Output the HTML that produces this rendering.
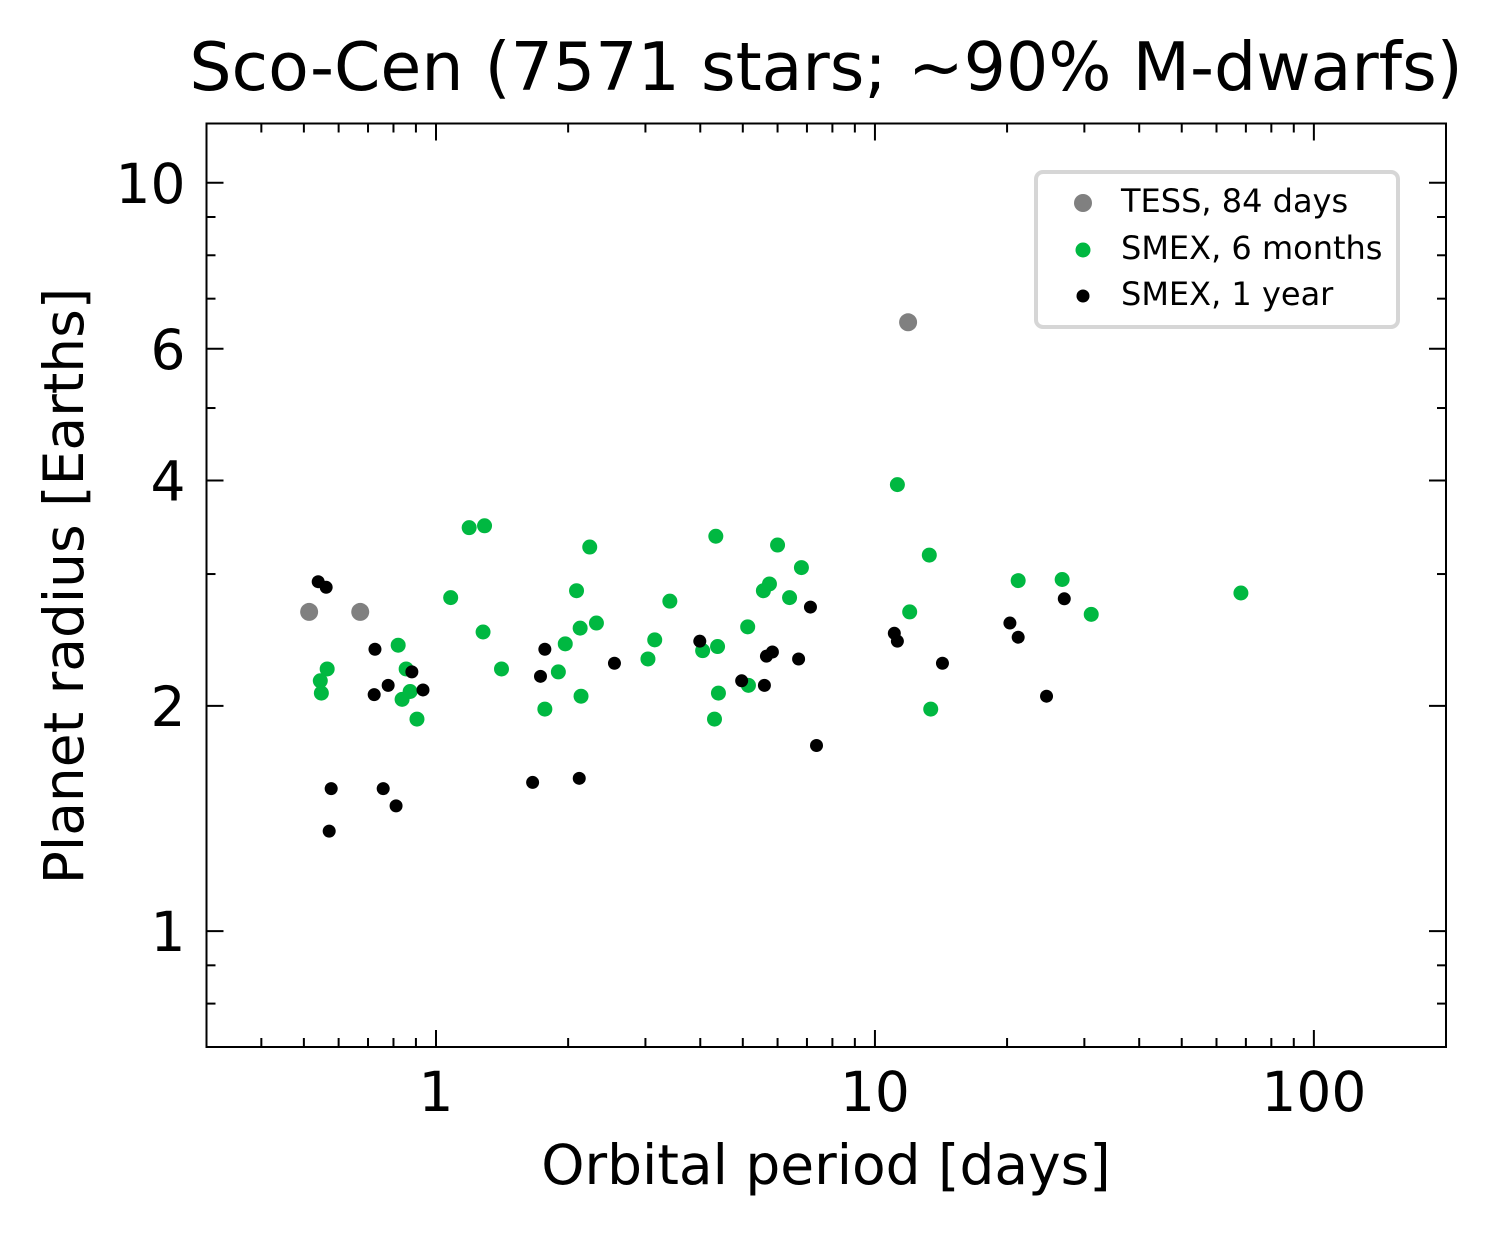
<!DOCTYPE html>
<html><head><meta charset="utf-8"><style>
html,body{margin:0;padding:0;background:#fff;}
svg{display:block;font-family:"DejaVu Sans","Liberation Sans",sans-serif;}
</style></head><body>
<svg id="chart" width="1504" height="1237" viewBox="0 0 1504 1237" xmlns="http://www.w3.org/2000/svg">
<rect width="1504" height="1237" fill="#fff"/>
<text x="826" y="90" font-size="66.5" text-anchor="middle">Sco-Cen (7571 stars; ~90% M-dwarfs)</text>
<g id="ticks"></g>
<g id="points"></g>
<rect x="206.5" y="123.5" width="1239.5" height="923.5" fill="none" stroke="#000" stroke-width="2"/>
<text x="826" y="1184" font-size="55" text-anchor="middle">Orbital period [days]</text>
<text transform="translate(83,586) rotate(-90)" font-size="55" text-anchor="middle">Planet radius [Earths]</text>
<g>
<rect x="1036" y="172" width="362" height="155" rx="7" fill="#fff" stroke="#d6d6d6" stroke-width="4"/>
<circle cx="1083" cy="203" r="9" fill="#808080"/>
<text x="1121" y="212" font-size="32">TESS, 84 days</text>
<circle cx="1083" cy="250" r="7.5" fill="#00b841"/>
<text x="1121" y="259" font-size="32">SMEX, 6 months</text>
<circle cx="1083" cy="296" r="6.5" fill="#000"/>
<text x="1121" y="305" font-size="32">SMEX, 1 year</text>
</g>
</svg>
<script>
const tessP=[0.514,0.672,11.9];
const tessR=[2.67,2.67,6.51];
const sixP=[1.19,1.29,1.08,1.28,1.41,0.82,0.855,0.837,0.873,0.905,0.545,0.565,0.548,2.24,2.09,2.32,1.97,2.13,1.90,2.14,1.77,3.41,3.15,3.04,4.34,4.38,4.05,4.40,4.31,6.00,6.80,5.75,5.57,6.39,5.13,5.15,11.25,13.3,12.0,13.4,21.2,26.7,31.1,68.2];
const sixR=[3.46,3.48,2.79,2.51,2.24,2.41,2.24,2.04,2.09,1.92,2.16,2.24,2.08,3.26,2.85,2.58,2.42,2.54,2.22,2.06,1.98,2.76,2.45,2.31,3.37,2.40,2.37,2.08,1.92,3.28,3.06,2.91,2.85,2.79,2.55,2.13,3.95,3.18,2.67,1.98,2.94,2.95,2.65,2.83];
const yrP=[0.539,0.562,0.726,0.723,0.778,0.881,0.934,0.577,0.758,0.811,0.571,1.77,1.73,2.55,1.66,2.12,3.99,4.97,5.60,5.66,5.84,6.70,7.13,7.36,11.07,11.25,14.25,20.3,21.2,24.6,27.0];
const yrR=[2.93,2.88,2.38,2.07,2.13,2.22,2.10,1.55,1.55,1.47,1.36,2.38,2.19,2.28,1.58,1.60,2.44,2.16,2.13,2.33,2.36,2.31,2.71,1.77,2.50,2.44,2.28,2.58,2.47,2.06,2.78];
const xMajor=[1,10,100];
const xLabels=["1","10","100"];
const yMajor=[1,2,4,6,10];
const yLabels=["1","2","4","6","10"];
const xMinor=[0.4,0.5,0.6,0.7,0.8,0.9,2,3,4,5,6,7,8,9,20,30,40,50,60,70,80,90];
const yMinor=[0.8,0.9,3,5,7,8,9];

const L=206.5,R=1446,T=123.5,B=1047;
const xmin=Math.log10(0.3),xmax=Math.log10(200),ymin=Math.log10(0.7),ymax=Math.log10(12);
function sx(v){return L+(Math.log10(v)-xmin)/(xmax-xmin)*(R-L);}
function sy(v){return B-(Math.log10(v)-ymin)/(ymax-ymin)*(B-T);}
const NS="http://www.w3.org/2000/svg";
const tg=document.getElementById('ticks'),pg=document.getElementById('points');
function line(x1,y1,x2,y2,name){const l=document.createElementNS(NS,'line');
l.setAttribute('x1',x1);l.setAttribute('y1',y1);l.setAttribute('x2',x2);l.setAttribute('y2',y2);
l.setAttribute('stroke','#000');l.setAttribute('stroke-width','2');


tg.appendChild(l);}
function txt(x,y,s,anchor,name){const t=document.createElementNS(NS,'text');
t.setAttribute('x',x);t.setAttribute('y',y);t.setAttribute('font-size','55');t.setAttribute('text-anchor',anchor);t.textContent=s;


tg.appendChild(t);}
xMajor.forEach((v,i)=>{const x=sx(v);line(x,B,x,B-17,'x-major-tick');line(x,T,x,T+17,'x-major-tick-top');txt(x,B+64,xLabels[i],'middle','x-tick-label');});
xMinor.forEach(v=>{const x=sx(v);line(x,B,x,B-9,'x-minor-tick');line(x,T,x,T+9,'x-minor-tick-top');});
yMajor.forEach((v,i)=>{const y=sy(v);line(L,y,L+17,y,'y-major-tick');line(R,y,R-17,y,'y-major-tick-right');txt(L-21,y+20,yLabels[i],'end','y-tick-label');});
yMinor.forEach(v=>{const y=sy(v);line(L,y,L+9,y,'y-minor-tick');line(R,y,R-9,y,'y-minor-tick-right');});
function pts(P,Rr,r,col,name){P.forEach((p,i)=>{const c=document.createElementNS(NS,'circle');
c.setAttribute('cx',sx(p));c.setAttribute('cy',sy(Rr[i]));c.setAttribute('r',r);c.setAttribute('fill',col);


pg.appendChild(c);});}
pts(tessP,tessR,9,'#808080','tess-point');
pts(sixP,sixR,7.5,'#00b841','smex-6mo-point');
pts(yrP,yrR,6.5,'#000','smex-1yr-point');
</script>
</body></html>
